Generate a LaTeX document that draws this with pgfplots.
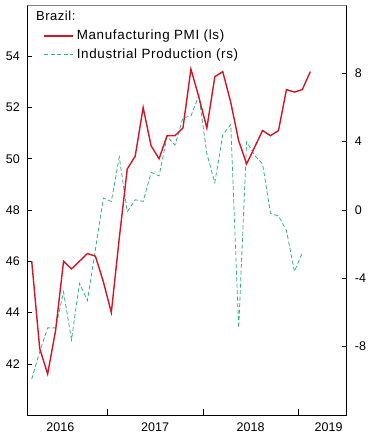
\documentclass[border=0pt]{standalone}
\usepackage{pgfplots}
\pgfplotsset{compat=1.18}
\usepackage{fontspec}
\setmainfont{Liberation Sans}
\definecolor{pmired}{RGB}{213,20,35}
\definecolor{ipgreen}{RGB}{50,178,130}

\pgfplotstableread{
x y
2.5 46.0
3.5 42.6
4.5 41.6
5.5 43.3
6.5 46.0
7.5 45.7
8.5 46.0
9.5 46.3
10.5 46.2
11.5 45.2
12.5 44.0
13.5 46.9
14.5 49.6
15.5 50.1
16.5 52.0
17.5 50.5
18.5 50.0
19.5 50.9
20.5 50.9
21.5 51.2
22.5 53.5
23.5 52.4
24.5 51.2
25.5 53.2
26.5 53.4
27.5 52.2
28.5 50.7
29.5 49.8
30.5 50.45
31.5 51.1
32.5 50.9
33.5 51.1
34.5 52.7
35.5 52.6
36.5 52.7
37.5 53.4
}\pmitable

\pgfplotstableread{
x y
2.5 -9.9
3.5 -8.3
4.5 -6.9
5.5 -6.9
6.5 -4.8
7.5 -7.6
8.5 -4.3
9.5 -5.3
10.5 -2.3
11.5 0.7
12.5 0.5
13.5 3.1
14.5 -0.1
15.5 0.6
16.5 0.5
17.5 2.2
18.5 2.0
19.5 4.3
20.5 3.8
21.5 5.4
22.5 5.5
23.5 6.7
24.5 3.3
25.5 1.6
26.5 4.4
27.5 5.0
28.5 -6.9
29.5 4.0
30.5 3.2
31.5 2.7
32.5 -0.2
33.5 -0.35
34.5 -1.2
35.5 -3.6
36.5 -2.5
}\iptable

\begin{document}
\begin{tikzpicture}
\pgfplotsset{
 common/.style={
  width=319.2bp, height=410bp, scale only axis,
  xmin=1.97, xmax=42.07,
  tick align=inside,
  major tick length=4.5bp,
  minor tick length=6bp,
  tick style={black, line width=0.5bp},
  axis line style={black, line width=0.7bp},
  tick label style={font=\fontsize{12.5bp}{14bp}\selectfont},
  /pgf/number format/assume math mode=true,
 },
 pmistyle/.style={pmired, line width=1.4bp},
 ipstyle/.style={ipgreen, line width=0.8bp, dash pattern=on 4bp off 2.5bp},
}
\begin{axis}[common,
  ymin=-12, ymax=12,
  axis x line=none,
  axis y line*=right,
  ytick={-8,-4,0,4,8},
  yticklabels={-8,-4,0,4,8},
  yticklabel style={anchor=west, inner sep=0pt},
  yticklabel shift=8bp,
]
\addplot[ipstyle] table[x=x,y=y] {\iptable};
\end{axis}
\begin{axis}[common,
  ymin=40, ymax=56,
  ytick={42,44,46,48,50,52,54},
  yticklabels={42,44,46,48,50,52,54},
  ytick pos=left,
  yticklabel style={anchor=east, inner sep=0pt},
  yticklabel shift=7.5bp,
  xtick={6.1,18,30,39.8},
  xticklabels={2016,2017,2018,2019},
  major x tick style={draw=none},
  minor xtick={12,24,36},
  xtick pos=bottom,
  xticklabel style={anchor=north, inner sep=0pt},
  xticklabel shift=8bp,
  legend style={draw=none, fill=none, at={(0.0486,0.944)}, anchor=north west,
    inner sep=0pt, row sep=3bp, column sep=0pt,
    font=\fontsize{13.4bp}{15bp}\selectfont\addfontfeature{LetterSpace=5},
    cells={anchor=west}},
  legend image code/.code={\draw[#1] (0bp,0bp) -- (29bp,0bp);},
]
\addplot[pmistyle, forget plot] table[x=x,y=y] {\pmitable};
\addlegendimage{pmired, line width=1.6bp}
\addlegendentry{\hspace{1bp}Manufacturing PMI (ls)}
\addlegendimage{ipstyle}
\addlegendentry{\hspace{1bp}Industrial Production (rs)}
\draw[gray, line width=0.8bp] (rel axis cs:0,1) -- (rel axis cs:1,1);
\node[anchor=west, inner sep=0pt, font=\fontsize{13bp}{15bp}\selectfont\addfontfeature{LetterSpace=4}] at (rel axis cs:0.0266,0.973) {Brazil:};
\node[anchor=north west, inner sep=0pt, font=\fontsize{12.5bp}{14bp}\selectfont] at ([xshift=1.5bp,yshift=-3bp]rel axis cs:1,1) {\%yoy};
\end{axis}
\pgfresetboundingbox
\path ([shift={(-27.5bp,-25bp)}]current axis.south west) rectangle ([shift={(35.3bp,5bp)}]current axis.north east);
\end{tikzpicture}
\end{document}
